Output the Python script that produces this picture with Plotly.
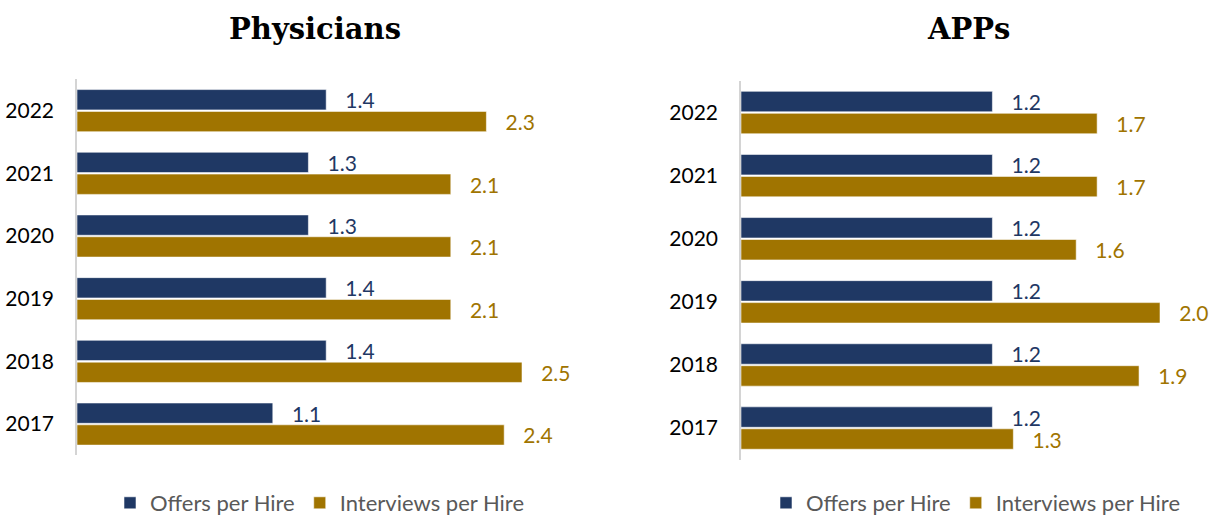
import plotly.graph_objects as go

# Hiring ratios by year, most recent year first
years = ["2022", "2021", "2020", "2019", "2018", "2017"]

phys_offers = [1.4, 1.3, 1.3, 1.4, 1.4, 1.1]
phys_interviews = [2.3, 2.1, 2.1, 2.1, 2.5, 2.4]

app_offers = [1.2, 1.2, 1.2, 1.2, 1.2, 1.2]
app_interviews = [1.7, 1.7, 1.6, 2.0, 1.9, 1.3]

series_names = ["Offers per Hire", "Interviews per Hire"]
panel_titles = ["Physicians", "APPs"]

NAVY = "#1F3864"
GOLD = "#A07400"
W, H = 1211, 519

LABEL_FONT = "Lato, 'Open Sans', sans-serif"


def px_x(p):
    return p / W


def px_y(p):
    # pixel measured from the top -> paper fraction from the bottom
    return 1 - p / H


fig = go.Figure()

panels = [
    (phys_offers, phys_interviews, "x", "y", "legend"),
    (app_offers, app_interviews, "x2", "y2", "legend2"),
]

for offers, interviews, xa, ya, lg in panels:
    for name, vals, color in [
        (series_names[0], offers, NAVY),
        (series_names[1], interviews, GOLD),
    ]:
        fig.add_trace(
            go.Bar(
                y=years,
                x=vals,
                name=name,
                orientation="h",
                xaxis=xa,
                yaxis=ya,
                legend=lg,
                marker=dict(color=color,
                            line=dict(color="rgba(255,255,255,0.55)", width=1)),
                texttemplate="\u00a0\u00a0\u00a0%{x:.1f}",
                textposition="outside",
                constraintext="none",
                cliponaxis=False,
                textfont=dict(family=LABEL_FONT, size=21, color=color),
                hoverinfo="skip",
            )
        )

axis_line = dict(showline=True, linecolor="#D4D4D4", linewidth=1.5)
hidden_x = dict(showticklabels=False, showgrid=False, zeroline=False,
                showline=False, fixedrange=True)
year_axis = dict(
    type="category",
    autorange="reversed",
    showgrid=False,
    zeroline=False,
    ticks="",
    automargin=False,
    ticklabelstandoff=17,
    tickfont=dict(family=LABEL_FONT, size=21, color="#000000"),
    **axis_line,
)

legend_style = dict(
    orientation="h",
    xanchor="center",
    y=px_y(503), yanchor="middle",
    font=dict(family=LABEL_FONT, size=22, color="#595959"),
    bgcolor="rgba(0,0,0,0)",
)

fig.update_layout(
    width=W,
    height=H,
    margin=dict(l=0, r=0, t=0, b=0, autoexpand=False),
    paper_bgcolor="white",
    plot_bgcolor="white",
    barmode="group",
    bargap=0.304,
    bargroupgap=0.069,
    xaxis=dict(domain=[px_x(77), px_x(77 + 178 * 3.0)], range=[0, 3.0], **hidden_x),
    yaxis=dict(domain=[px_y(455.4), px_y(79.3)], anchor="x", **year_axis),
    xaxis2=dict(domain=[px_x(741), px_x(741 + 209.5 * 2.2)], range=[0, 2.2],
                anchor="y2", **hidden_x),
    yaxis2=dict(domain=[px_y(459.6), px_y(81)], anchor="x2", **year_axis),
    legend=dict(x=px_x(320), **legend_style),
    legend2=dict(x=px_x(976), **legend_style),
    showlegend=True,
)

# Panel titles
for title, cx in zip(panel_titles, [315, 968]):
    fig.add_annotation(
        text=f"<b>{title}</b>",
        x=px_x(cx), y=px_y(29),
        xref="paper", yref="paper",
        xanchor="center", yanchor="middle",
        showarrow=False,
        font=dict(family="'DejaVu Serif', serif", size=29, color="#000000"),
    )

fig.write_html("out.html")
